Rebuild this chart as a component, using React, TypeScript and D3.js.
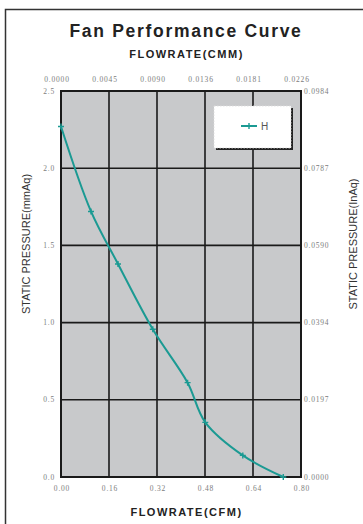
import React from "react";
import * as d3 from "d3";

const cfmTicks = [0, 0.16, 0.32, 0.48, 0.64, 0.8];
const cmmTickLabels = ["0.0000", "0.0045", "0.0090", "0.0136", "0.0181", "0.0226"];
const mmTicks = [0, 0.5, 1.0, 1.5, 2.0, 2.5];
const inTickLabels = ["0.0000", "0.0197", "0.0394", "0.0590", "0.0787", "0.0984"];
const flowCFM = [0, 0.1, 0.19, 0.306, 0.422, 0.481, 0.606, 0.741];
const pressureMM = [2.27, 1.72, 1.38, 0.957, 0.611, 0.354, 0.14, 0];
const seriesName = "H";

const W = 363, H = 524;
const L = 61, R = 301, T = 91, B = 477;
const teal = "#1b9a93";
const tickFont = "Liberation Serif";
const sansFont = "Liberation Sans";

export default function App() {
  const x = d3.scaleLinear().domain([0, 0.8]).range([L, R]);
  const y = d3.scaleLinear().domain([0, 2.5]).range([B, T]);
  const pts: [number, number][] = flowCFM.map((f, i) => [x(f), y(pressureMM[i])]);
  const line = d3.line().curve(d3.curveCatmullRom.alpha(0.5))(pts) || "";
  const plus = (cx: number, cy: number, k: string | number) => (
    <path key={k} d={`M${cx - 3},${cy}H${cx + 3}M${cx},${cy - 3}V${cy + 3}`} stroke={teal} strokeWidth={1.4} />
  );
  const tickStyle = { fontFamily: tickFont, fontSize: 7.5, letterSpacing: 0.8, fill: "#7c7c7c" };
  return (
    <svg width={W} height={H} style={{ position: "absolute", left: 0, top: 0, background: "#fff" }}>
      <path d="M5.5,524V9.5H363" fill="none" stroke="#333" strokeWidth={1.5} />
      <text x={186} y={37} textAnchor="middle" fontFamily={sansFont} fontWeight="bold" fontSize={17.5} letterSpacing={1.7} fill="#222">Fan Performance Curve</text>
      <text x={186.5} y={58} textAnchor="middle" fontFamily={sansFont} fontWeight="bold" fontSize={11} letterSpacing={1.5} fill="#222">FLOWRATE(CMM)</text>
      <text x={186.5} y={516} textAnchor="middle" fontFamily={sansFont} fontWeight="bold" fontSize={11} letterSpacing={1.5} fill="#222">FLOWRATE(CFM)</text>
      <text transform={`translate(30,244) rotate(-90)`} textAnchor="middle" fontFamily={sansFont} fontSize={11} fill="#333">STATIC PRESSURE(mmAq)</text>
      <text transform={`translate(357,244) rotate(-90)`} textAnchor="middle" fontFamily={sansFont} fontSize={11} fill="#333">STATIC PRESSURE(InAq)</text>
      <rect x={L} y={T} width={R - L} height={B - T} fill="#c8c9cb" />
      {cfmTicks.map((t, i) => (
        <line key={"gx" + i} x1={x(t)} x2={x(t)} y1={T} y2={B} stroke="#1a1a1a" strokeWidth={1.6} />
      ))}
      {mmTicks.map((t, i) => (
        <line key={"gy" + i} x1={L} x2={R} y1={y(t)} y2={y(t)} stroke="#1a1a1a" strokeWidth={1.6} />
      ))}
      <rect x={L} y={T} width={R - L} height={B - T} fill="none" stroke="#1a1a1a" strokeWidth={2} />
      {cfmTicks.map((t, i) => (
        <text key={"bx" + i} x={x(t) + 1} y={491} textAnchor="middle" style={tickStyle}>{t.toFixed(2)}</text>
      ))}
      {cmmTickLabels.map((s, i) => (
        <text key={"tx" + i} x={x(cfmTicks[i]) - 4} y={82} textAnchor="middle" style={tickStyle}>{s}</text>
      ))}
      {mmTicks.map((t, i) => (
        <text key={"ly" + i} x={55} y={y(t) + 2.5} textAnchor="end" style={tickStyle}>{t.toFixed(1)}</text>
      ))}
      {inTickLabels.map((s, i) => (
        <text key={"ry" + i} x={304} y={y(mmTicks[i]) + 2.5} textAnchor="start" style={tickStyle}>{s}</text>
      ))}
      <path d={line} fill="none" stroke={teal} strokeWidth={2} />
      {pts.map((p, i) => plus(p[0], p[1], i))}
      <rect x={216} y={108} width={77} height={42} fill="#222" />
      <rect x={214} y={106} width={77} height={42} fill="#fff" stroke="#ddd" strokeWidth={0.8} strokeDasharray="1.5,1.5" />
      <line x1={241} x2={257} y1={126} y2={126} stroke={teal} strokeWidth={2} />
      {plus(249, 126, "lg")}
      <text x={261} y={130} fontFamily={sansFont} fontSize={10} fill="#555">{seriesName}</text>
    </svg>
  );
}
